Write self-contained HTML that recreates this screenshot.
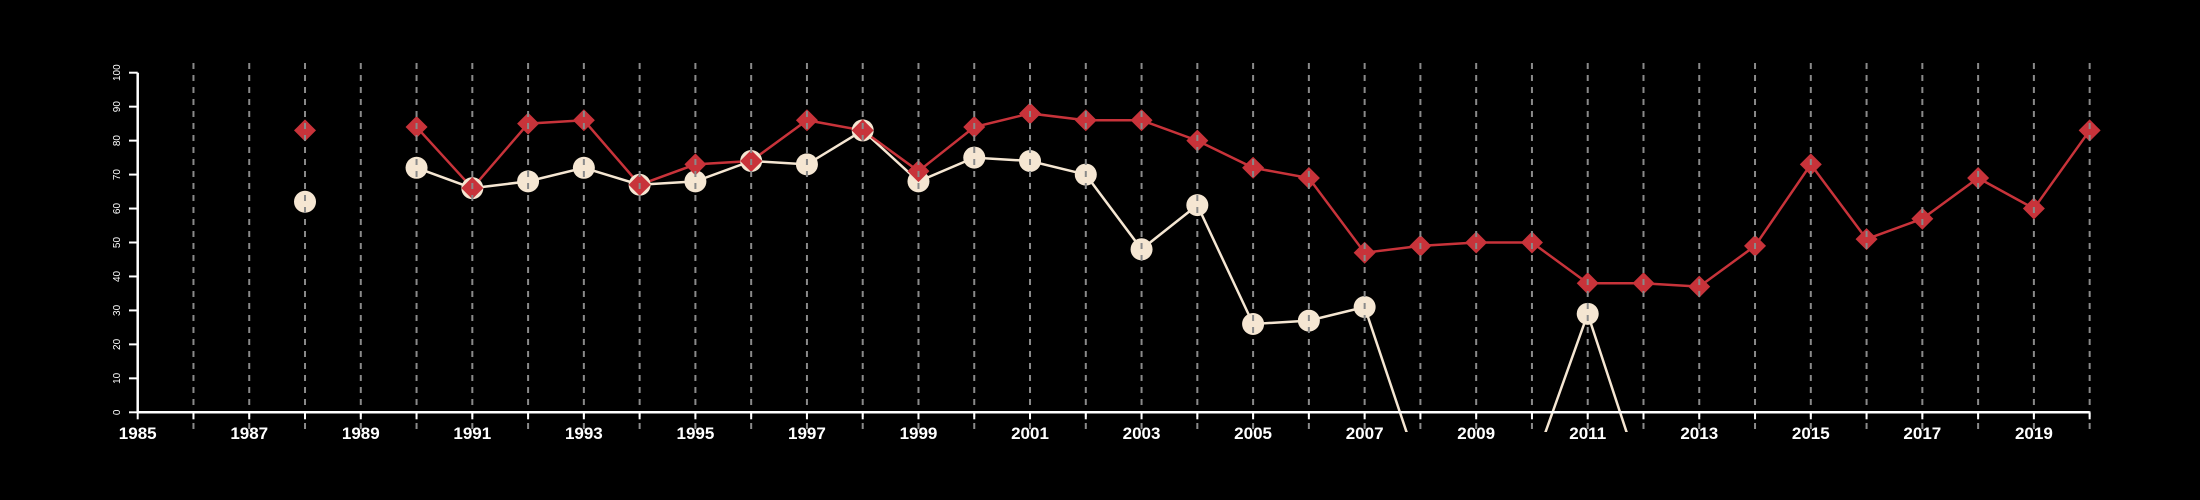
<!DOCTYPE html>
<html><head><meta charset="utf-8"><style>html,body{margin:0;background:#000;}svg{display:block}</style></head>
<body>
<svg id="chart" width="2200" height="500" xmlns="http://www.w3.org/2000/svg" style="font-family:'Liberation Sans',sans-serif">
<rect width="2200" height="500" fill="#000"/>
<defs><clipPath id="clip"><rect x="120" y="55" width="2000" height="377"/></clipPath></defs>
<g id="series" clip-path="url(#clip)"></g>
<g id="grid"></g>
<g id="axes"></g>
</svg>
<script>
const years = [1988,1989,1990,1991,1992,1993,1994,1995,1996,1997,1998,1999,2000,2001,2002,2003,2004,2005,2006,2007,2008,2009,2010,2011,2012,2013,2014,2015,2016,2017,2018,2019,2020];
const redValues = [83,null,84,66,85,86,67,73,74,86,83,71,84,88,86,86,80,72,69,47,49,50,50,38,38,37,49,73,51,57,69,60,83];
const creamValues = [62,null,72,66,68,72,67,68,74,73,83,68,75,74,70,48,61,26,27,31,-18,-20,-17,29,-21,null,null,null,null,null,null,null,null];
const yTicks = [0,10,20,30,40,50,60,70,80,90,100];
const xLabelYears = [1985,1987,1989,1991,1993,1995,1997,1999,2001,2003,2005,2007,2009,2011,2013,2015,2017,2019];

const NS='http://www.w3.org/2000/svg';
const x = v => 137.7 + (v-1985)*55.77;
const y = v => 412.3 - v*3.396;
function mk(tag, attrs, parent){const e=document.createElementNS(NS,tag);for(const k in attrs)e.setAttribute(k,attrs[k]);parent.appendChild(e);return e;}
const gS=document.getElementById('series'), gG=document.getElementById('grid'), gA=document.getElementById('axes');

function drawLine(vals, color, name){
  let seg=[];
  const segs=[];
  vals.forEach((v,i)=>{ if(v===null){ if(seg.length)segs.push(seg); seg=[]; } else seg.push([x(years[i]),y(v)]); });
  if(seg.length)segs.push(seg);
  segs.forEach(s=>{ if(s.length>1){
    const p=mk('polyline',{points:s.map(q=>q.join(',')).join(' '),fill:'none',stroke:color,'stroke-width':2.5},gS);
    
    
  }});
}
drawLine(creamValues,'#f5e6d2','cream-series');
drawLine(redValues,'#c8333a','red-series');
creamValues.forEach((v,i)=>{ if(v===null)return;
  const c=mk('circle',{cx:x(years[i]),cy:y(v),r:11,fill:'#f5e6d2'},gS);
  
  
});
redValues.forEach((v,i)=>{ if(v===null)return;
  const cx=x(years[i]), cy=y(v), r=11;
  const d=mk('polygon',{points:`${cx},${cy-r} ${cx+r},${cy} ${cx},${cy+r} ${cx-r},${cy}`,fill:'#c8333a'},gS);
  
  
});
for(let yr=1986; yr<=2020; yr++){
  const l=mk('line',{x1:x(yr),x2:x(yr),y1:63,y2:432,stroke:'#8a8a8a','stroke-width':2,'stroke-dasharray':'6,6'},gG);
  
  
}
const ya=mk('line',{x1:137.7,x2:137.7,y1:y(0),y2:y(100),stroke:'#fff','stroke-width':2.5},gA);


yTicks.forEach(t=>{
  const tk=mk('line',{x1:129,x2:137.7,y1:y(t),y2:y(t),stroke:'#fff','stroke-width':2},gA);
  
  
  const tx=mk('text',{x:0,y:0,fill:'#fff','font-size':10,'text-anchor':'middle',transform:`translate(120,${y(t)}) rotate(-90)`},gA);
  tx.textContent=t;
  
  
});
const xa=mk('line',{x1:x(1985),x2:x(2020),y1:y(0),y2:y(0),stroke:'#fff','stroke-width':2.5},gA);


for(let yr=1985; yr<=2020; yr++){
  const tk=mk('line',{x1:x(yr),x2:x(yr),y1:y(0),y2:y(0)+7,stroke:'#fff','stroke-width':2},gA);
  
  
}
xLabelYears.forEach(yr=>{
  const tx=mk('text',{x:x(yr),y:439,fill:'#fff','font-size':17,'font-weight':'bold','text-anchor':'middle'},gA);
  tx.textContent=yr;
  
  
});
</script>
</body></html>
